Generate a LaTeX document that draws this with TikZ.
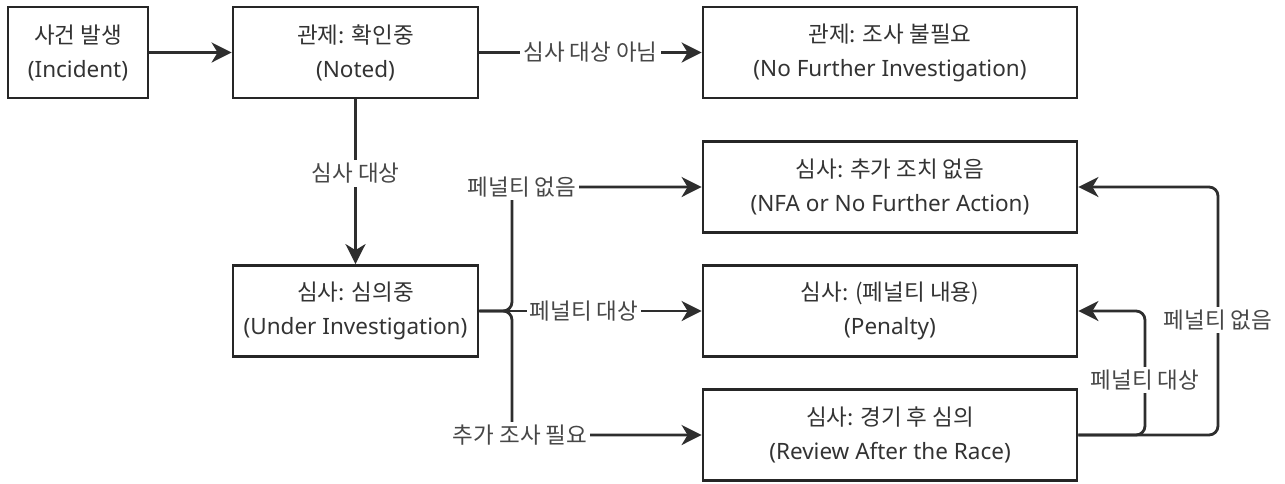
\documentclass[tikz,border=0pt]{standalone}
\usepackage{fontspec}
\setmainfont{Noto Sans}
\newfontfamily\krfont{Noto Sans CJK KR}
\newcommand{\kr}[1]{{\krfont\fontsize{22.5}{34}\selectfont #1}}
\usetikzlibrary{arrows.meta}
\begin{document}
\begin{tikzpicture}[x=1pt,y=-1pt,
  box/.style={draw=black!85, line width=2.8pt, minimum height=91pt, align=center,
    font=\fontsize{22.5}{34}\selectfont, text=black!80, inner sep=0pt},
  conn/.style={draw=black!82, line width=2.8pt, -{Stealth[length=20pt,width=20pt,inset=6pt]}},
  lbl/.style={fill=white, font=\krfont\fontsize{22.5}{25}\selectfont, text=black!72, inner sep=3pt}]
\useasboundingbox[fill=white] (0,0) rectangle (1285,483);
\node[box, minimum width=140pt] (A) at (78,52.5) {\kr{사건 발생}\\(Incident)};
\node[box, minimum width=245pt] (B) at (355.5,52.5) {\kr{관제: 확인중}\\(Noted)};
\node[box, minimum width=374pt] (C) at (890,52.5) {\kr{관제: 조사 불필요}\\(No Further Investigation)};
\node[box, minimum width=245pt] (D) at (355.5,311) {\kr{심사: 심의중}\\(Under Investigation)};
\node[box, minimum width=374pt] (E) at (890,187) {\kr{심사: 추가 조치 없음}\\(NFA or No Further Action)};
\node[box, minimum width=374pt] (F) at (890,311) {\kr{심사: (페널티 내용)}\\(Penalty)};
\node[box, minimum width=374pt] (G) at (890,435) {\kr{심사: 경기 후 심의}\\(Review After the Race)};

\coordinate (j) at (512,311);
\coordinate (r1) at (1145,311);
\coordinate (r2) at (1218,187);

\draw[conn] (A) -- (B);
\draw[conn] (B) -- node[lbl] (l1) {심사 대상 아님} (C);
\draw[conn] (B) -- node[lbl, pos=0.45] (l2) {심사 대상} (D);
\draw[conn, rounded corners=9pt] (D.east) -- (j) |- (E.west);
\draw[conn, rounded corners=9pt] (D.east) -- (j) |- (G.west);
\draw[conn] (D.east) -- (F.west);
\draw[conn, rounded corners=9pt] (G.east) -| (r1) -- (F.east);
\draw[conn, rounded corners=9pt] (G.east) -| (r2) -- (E.east);

\node[lbl] (l3) at (522,187) {페널티 없음};
\node[lbl] (l4) at (584,311) {페널티 대상};
\node[lbl] (l5) at (520,435) {추가 조사 필요};
\node[lbl] (l6) at (1145,380) {페널티 대상};
\node[lbl] (l7) at (1218,320) {페널티 없음};
\end{tikzpicture}
\end{document}
